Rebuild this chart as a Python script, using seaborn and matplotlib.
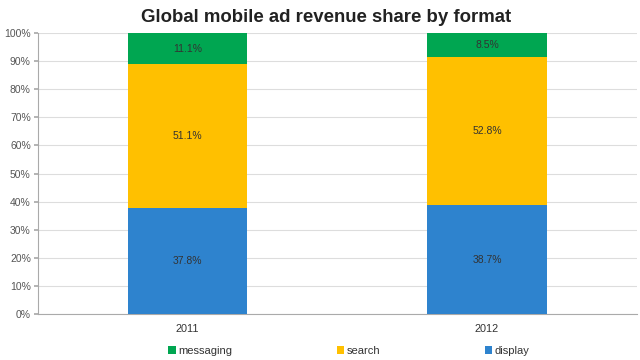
import matplotlib
matplotlib.use("Agg")
import matplotlib.pyplot as plt
import seaborn as sns
import pandas as pd
from matplotlib.patches import Patch

years = ["2011", "2012"]
display = [37.8, 38.7]
search = [51.1, 52.8]
messaging = [11.1, 8.5]
series_names = ["messaging", "search", "display"]
colors = {"display": "#2E83CE", "search": "#FFC000", "messaging": "#00A651"}

sns.set_theme(style="white")
plt.rcParams['font.family'] = ['Liberation Sans', 'DejaVu Sans']

fig = plt.figure(figsize=(6.4, 3.6), dpi=100)
ax = fig.add_axes([0.059, 0.128, 0.936, 0.78])

df = pd.DataFrame({"year": years, "display": display, "search": search, "messaging": messaging})
bottom = [0.0, 0.0]
for name in ["display", "search", "messaging"]:
    vals = df[name].tolist()
    sns.barplot(x=df["year"], y=vals, bottom=bottom, color=colors[name], width=0.4,
                ax=ax, saturation=1, zorder=3, linewidth=0)
    for i, v in enumerate(vals):
        ax.text(i, bottom[i] + v / 2, f"{v:.1f}%", ha="center", va="center",
                fontsize=7.5, color="#333333", zorder=4)
    bottom = [b + v for b, v in zip(bottom, vals)]

ax.set_xlim(-0.5, 1.5)
ax.set_ylim(0, 100)
ax.set_yticks(range(0, 101, 10))
ax.set_yticklabels([f"{t}%" for t in range(0, 101, 10)], fontsize=7.5, color="#555555")
ax.set_xticks([0, 1])
ax.set_xticklabels(years, fontsize=7.8, color="#333333")
ax.set_xticks([-0.5, 0.5, 1.5], minor=True)
ax.tick_params(axis="x", which="major", length=0, pad=7)
ax.tick_params(axis="x", which="minor", length=3, color="#AAAAAA", direction="out")
ax.tick_params(axis="y", length=3, color="#AAAAAA", direction="out", pad=2, left=True)
ax.set_xlabel("")
ax.set_ylabel("")
ax.yaxis.grid(True, color="#DDDDDD", linewidth=0.8, zorder=0)
ax.set_axisbelow(True)
for s in ["top", "right"]:
    ax.spines[s].set_visible(False)
for s in ["left", "bottom"]:
    ax.spines[s].set_color("#AAAAAA")
    ax.spines[s].set_linewidth(0.8)

fig.suptitle("Global mobile ad revenue share by format", x=0.51, y=0.975,
             fontsize=13.4, fontweight="bold", color="#222222")

handles = [Patch(facecolor=colors[n], edgecolor="none", label=n) for n in series_names]
fig.legend(handles=handles, loc="center", bbox_to_anchor=(0.545, 0.025), ncol=3,
           frameon=False, fontsize=8, handlelength=0.7, handleheight=0.7,
           handletextpad=0.2, columnspacing=9.4, labelcolor="#333333")

fig.savefig("out.png", dpi=100)
